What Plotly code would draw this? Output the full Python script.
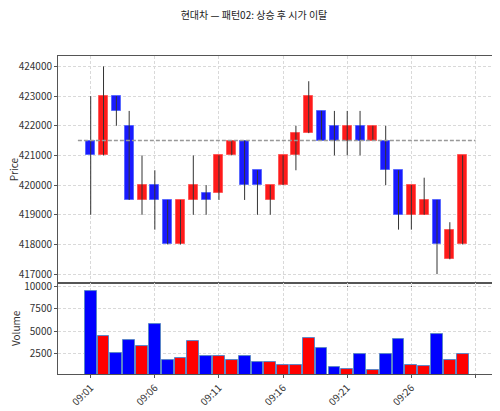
import plotly.graph_objects as go
from plotly.subplots import make_subplots

TITLE = "현대차 — 패턴02: 상승 후 시가 이탈"

times = [f"09:{m:02d}" for m in range(1, 31)]
opens = [421500, 421000, 423000, 422000, 419500, 420000, 419500, 418000, 419500, 419750,
         419750, 421000, 421500, 420500, 419500, 420000, 421000, 421750, 422500, 422000,
         421500, 422000, 421500, 421500, 420500, 419000, 419000, 419500, 417500, 418000]
highs = [423000, 424000, 423000, 422500, 421000, 420500, 419500, 419500, 421000, 420000,
         421000, 421500, 421500, 420500, 420000, 421000, 422000, 423500, 422500, 422500,
         422500, 422500, 422000, 422000, 420500, 420000, 420250, 419500, 418750, 421000]
lows = [419000, 421000, 422000, 419500, 419000, 418500, 418000, 418000, 419000, 419000,
        419500, 421000, 419500, 419000, 419000, 420000, 420500, 421750, 421500, 421000,
        421000, 421000, 421500, 420000, 418500, 418500, 419000, 417000, 417500, 418000]
closes = [421000, 423000, 422500, 419500, 420000, 419500, 418000, 419500, 420000, 419500,
          421000, 421500, 420000, 420000, 420000, 421000, 421750, 423000, 421500, 421500,
          422000, 421500, 422000, 420500, 419000, 420000, 419500, 418000, 418500, 421000]
volumes = [9500, 4500, 2600, 4050, 3350, 5800, 1830, 2010, 3950, 2270,
           2270, 1830, 2270, 1570, 1570, 1270, 1270, 4200, 3090, 970,
           825, 2500, 710, 2500, 4100, 1270, 1085, 4690, 1830, 2500]
ref_level = 421500
tick_labels = ["09:01", "09:06", "09:11", "09:16", "09:21", "09:26", ""]

UP = "#ff1a1a"
DOWN = "#1a1aff"

idx = list(range(len(times)))
colors = [UP if c >= o else DOWN for o, c in zip(opens, closes)]
edges = ["#ff5a5a" if c >= o else "#5a6aff" for o, c in zip(opens, closes)]

# wick segments separated by None
wx, wy = [], []
for i, h, l in zip(idx, highs, lows):
    wx += [i, i, None]
    wy += [l, h, None]

fig = make_subplots(rows=2, cols=1, shared_xaxes=True, vertical_spacing=0.0,
                    row_heights=[0.714, 0.286])

fig.add_trace(go.Scatter(x=wx, y=wy, mode="lines", line=dict(color="#333333", width=1),
                         hoverinfo="skip", showlegend=False), row=1, col=1)
fig.add_trace(go.Bar(x=idx, y=[abs(c - o) for o, c in zip(opens, closes)],
                     base=[min(o, c) for o, c in zip(opens, closes)],
                     width=0.7, marker=dict(color=colors, line=dict(color=edges, width=1)),
                     showlegend=False), row=1, col=1)
fig.add_trace(go.Scatter(x=[-1, 30], y=[ref_level, ref_level], mode="lines",
                         line=dict(color="#999999", width=1.5, dash="4px,2px"),
                         showlegend=False), row=1, col=1)

vol_colors = ["#0000ff" if c == DOWN else "#ff0000" for c in colors]
fig.add_trace(go.Bar(x=idx, y=volumes, width=0.92,
                     marker=dict(color=vol_colors, line=dict(color="#5b86c8", width=1)),
                     showlegend=False), row=2, col=1)

axis_font = dict(family="Noto Sans CJK KR, DejaVu Sans", size=10, color="#333333")
grid = dict(showgrid=True, gridcolor="#d9d9d9", griddash="3px,2px", gridwidth=1,
            showline=True, linecolor="#555555", linewidth=1, mirror=True,
            ticks="outside", ticklen=3, tickcolor="#555555", zeroline=False,
            tickfont=axis_font)

fig.update_xaxes(range=[-2.55, 31.6], tickmode="array", tickvals=idx[::5] + [30],
                 ticktext=tick_labels, **grid)
fig.update_xaxes(showticklabels=False, row=1, col=1)
fig.update_xaxes(tickangle=-45, row=2, col=1)

fig.update_yaxes(range=[416700, 424350], tickvals=list(range(417000, 424001, 1000)),
                 tickformat="d", row=1, col=1, **grid)
fig.update_yaxes(range=[240, 10370], tickvals=[2500, 5000, 7500, 10000], tickformat="d",
                 row=2, col=1, **grid)

# axis titles placed by hand, left of the tick labels
fig.add_annotation(text="Price", xref="paper", yref="y domain", x=-0.101, y=0.5,
                   xanchor="center", yanchor="middle",
                   textangle=-90, showarrow=False, font=axis_font)
fig.add_annotation(text="Volume", xref="paper", yref="y2 domain", x=-0.097, y=0.5,
                   xanchor="center", yanchor="middle",
                   textangle=-90, showarrow=False, font=axis_font)

# the page puts the plot 8px in from the top-left corner
fig.update_layout(
    title=dict(text=TITLE, x=0.5, xanchor="center", y=0.99, yanchor="top",
               font=dict(family="Noto Sans CJK KR", size=10, color="#222222")),
    width=492, height=403,
    margin=dict(l=50, r=4, t=48, b=37, autoexpand=False),
    paper_bgcolor="white", plot_bgcolor="white",
    barmode="overlay", bargap=0,
)

fig.write_html("out.html")
